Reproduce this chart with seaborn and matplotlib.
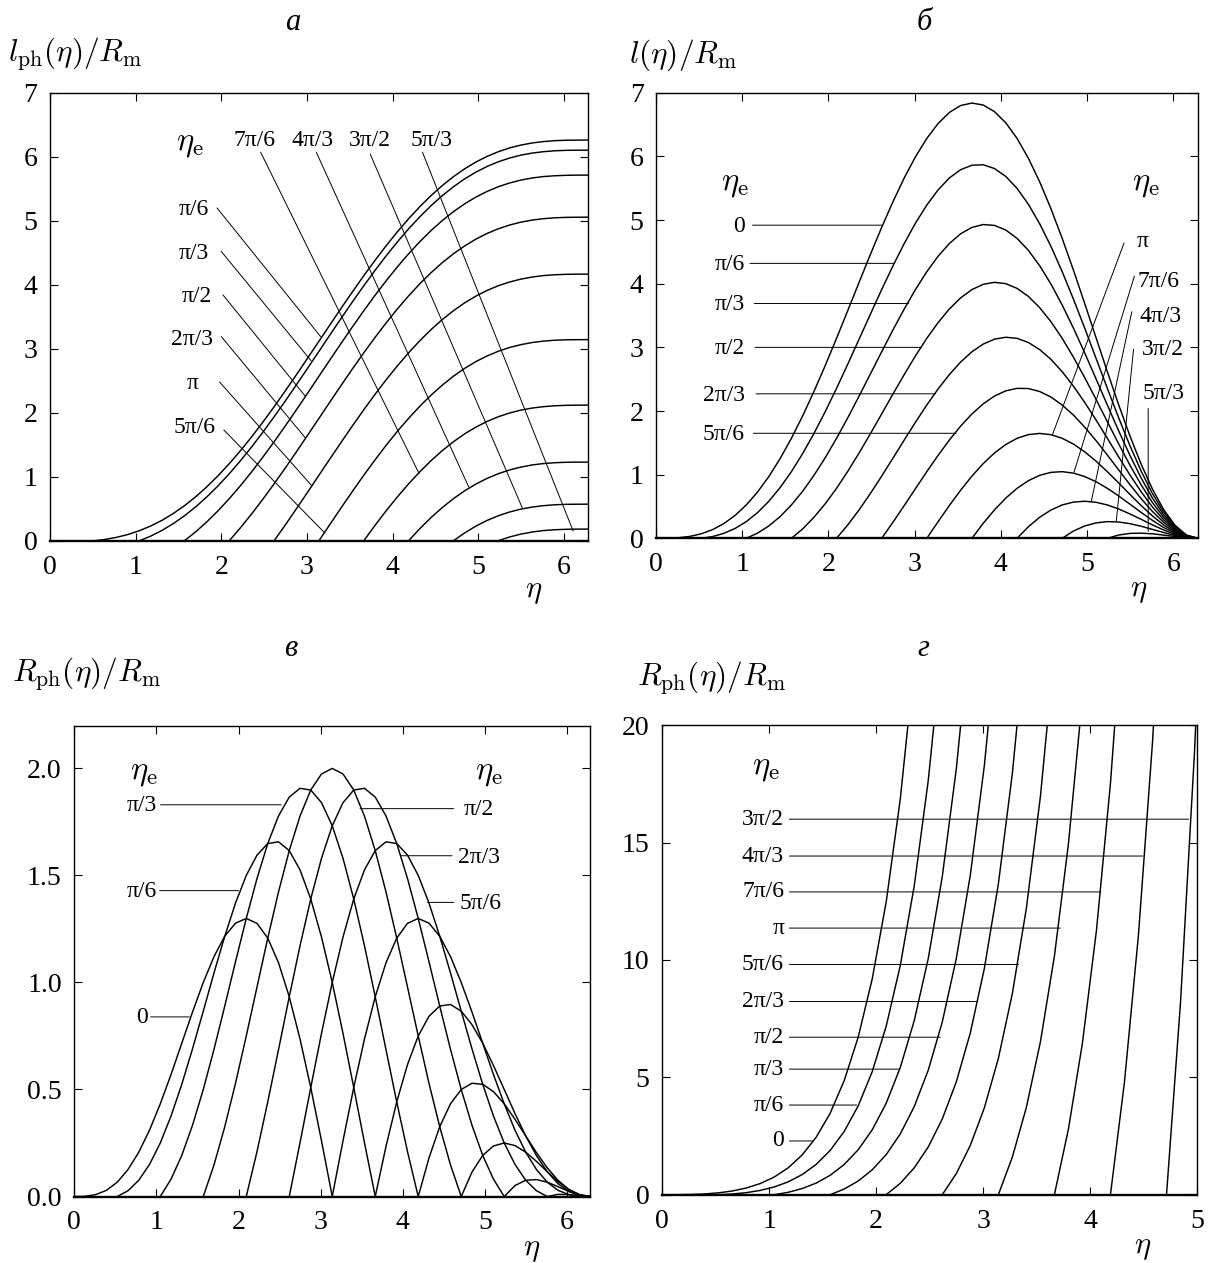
import pandas as pd
import seaborn as sns
import matplotlib
matplotlib.use('Agg')
import matplotlib.pyplot as plt

# conformal time grid, step pi/24
eta_grid = [0.0, 0.1309, 0.2618, 0.3927, 0.5236, 0.6545, 0.7854, 0.9163, 1.0472, 1.1781,
            1.3090, 1.4399, 1.5708, 1.7017, 1.8326, 1.9635, 2.0944, 2.2253, 2.3562, 2.4871,
            2.6180, 2.7489, 2.8798, 3.0107, 3.1416, 3.2725, 3.4034, 3.5343, 3.6652, 3.7961,
            3.9270, 4.0579, 4.1888, 4.3197, 4.4506, 4.5815, 4.7124, 4.8433, 4.9742, 5.1051,
            5.2360, 5.3669, 5.4978, 5.6287, 5.7596, 5.8905, 6.0214, 6.1523, 6.2832]

# emission moments eta_e = 0, pi/6, ..., 11pi/6
eta_e = [0.0, 0.5236, 1.0472, 1.5708, 2.0944, 2.6180, 3.1416, 3.6652, 4.1888, 4.7124, 5.2360, 5.7596]

# panel a: l_ph / R_m, eta_e = pi/6 ... 5pi/3 (values from eta_e on)
lph_curves = [
    [0, 0.022, 0.055, 0.099, 0.158, 0.231, 0.319, 0.425, 0.547, 0.687, 0.843, 1.016, 1.205,
     1.408, 1.625, 1.855, 2.094, 2.343, 2.597, 2.857, 3.118, 3.379, 3.639, 3.893, 4.142,
     4.381, 4.611, 4.828, 5.031, 5.220, 5.393, 5.549, 5.689, 5.811, 5.917, 6.005, 6.078,
     6.137, 6.181, 6.214, 6.236, 6.250, 6.257, 6.259, 6.260],
    [0, 0.073, 0.162, 0.267, 0.390, 0.529, 0.686, 0.858, 1.047, 1.251, 1.468, 1.697, 1.937,
     2.185, 2.440, 2.699, 2.960, 3.222, 3.481, 3.736, 3.984, 4.224, 4.453, 4.670, 4.874,
     5.062, 5.235, 5.392, 5.531, 5.654, 5.759, 5.848, 5.921, 5.979, 6.024, 6.056, 6.078,
     6.092, 6.099, 6.102, 6.102],
    [0, 0.139, 0.296, 0.469, 0.658, 0.861, 1.078, 1.308, 1.547, 1.795, 2.050, 2.309, 2.571,
     2.832, 3.091, 3.346, 3.594, 3.834, 4.063, 4.280, 4.484, 4.673, 4.846, 5.002, 5.142,
     5.264, 5.369, 5.458, 5.531, 5.589, 5.634, 5.667, 5.689, 5.702, 5.709, 5.712, 5.712],
    [0, 0.204, 0.421, 0.650, 0.890, 1.138, 1.393, 1.652, 1.913, 2.175, 2.434, 2.689, 2.937,
     3.176, 3.406, 3.623, 3.826, 4.015, 4.188, 4.345, 4.484, 4.606, 4.712, 4.801, 4.874,
     4.932, 4.977, 5.009, 5.031, 5.045, 5.052, 5.054, 5.055],
    [0, 0.248, 0.503, 0.762, 1.024, 1.285, 1.544, 1.799, 2.047, 2.287, 2.516, 2.733, 2.937,
     3.126, 3.299, 3.455, 3.594, 3.717, 3.822, 3.911, 3.984, 4.042, 4.087, 4.119, 4.142,
     4.155, 4.162, 4.165, 4.165],
    [0, 0.261, 0.521, 0.775, 1.024, 1.263, 1.493, 1.710, 1.913, 2.102, 2.275, 2.431, 2.571,
     2.693, 2.799, 2.887, 2.960, 3.019, 3.063, 3.096, 3.118, 3.132, 3.139, 3.141, 3.142],
    [0, 0.240, 0.469, 0.686, 0.890, 1.078, 1.251, 1.408, 1.547, 1.670, 1.775, 1.864, 1.937,
     1.995, 2.040, 2.072, 2.094, 2.108, 2.115, 2.118, 2.118],
    [0, 0.189, 0.362, 0.518, 0.658, 0.780, 0.885, 0.974, 1.047, 1.105, 1.150, 1.183, 1.205,
     1.218, 1.225, 1.228, 1.228],
    [0, 0.122, 0.228, 0.317, 0.390, 0.448, 0.493, 0.525, 0.547, 0.561, 0.568, 0.570, 0.571],
    [0, 0.058, 0.103, 0.135, 0.158, 0.171, 0.178, 0.181, 0.181],
]

# panel б: l / R_m, eta_e = 0 ... 11pi/6
l_curves = [
    [0, 0.001, 0.009, 0.030, 0.070, 0.135, 0.230, 0.358, 0.524, 0.727, 0.970, 1.252, 1.571,
     1.924, 2.307, 2.715, 3.142, 3.580, 4.022, 4.460, 4.885, 5.289, 5.662, 5.996, 6.283,
     6.517, 6.691, 6.800, 6.839, 6.808, 6.704, 6.528, 6.283, 5.973, 5.603, 5.180, 4.712,
     4.211, 3.687, 3.152, 2.618, 2.100, 1.610, 1.163, 0.772, 0.448, 0.205, 0.053, 0],
    [0, 0.027, 0.077, 0.154, 0.262, 0.404, 0.582, 0.797, 1.047, 1.332, 1.648, 1.991, 2.356,
     2.738, 3.129, 3.521, 3.908, 4.281, 4.632, 4.953, 5.236, 5.474, 5.662, 5.792, 5.862,
     5.869, 5.810, 5.686, 5.498, 5.249, 4.943, 4.588, 4.189, 3.756, 3.299, 2.828, 2.356,
     1.895, 1.457, 1.055, 0.702, 0.409, 0.187, 0.048, 0],
    [0, 0.081, 0.194, 0.341, 0.524, 0.740, 0.989, 1.267, 1.571, 1.895, 2.235, 2.582, 2.931,
     3.274, 3.603, 3.910, 4.189, 4.432, 4.632, 4.785, 4.885, 4.930, 4.916, 4.844, 4.712,
     4.525, 4.284, 3.996, 3.665, 3.301, 2.911, 2.505, 2.094, 1.690, 1.304, 0.947, 0.631,
     0.369, 0.170, 0.044, 0],
    [0, 0.148, 0.330, 0.543, 0.785, 1.053, 1.341, 1.643, 1.954, 2.267, 2.573, 2.868, 3.142,
     3.389, 3.603, 3.778, 3.908, 3.991, 4.022, 4.001, 3.927, 3.801, 3.625, 3.404, 3.142,
     2.845, 2.523, 2.182, 1.833, 1.485, 1.150, 0.839, 0.561, 0.329, 0.152, 0.039, 0],
    [0, 0.211, 0.447, 0.704, 0.977, 1.259, 1.544, 1.825, 2.094, 2.346, 2.573, 2.770, 2.931,
     3.052, 3.129, 3.159, 3.142, 3.077, 2.966, 2.812, 2.618, 2.390, 2.134, 1.859, 1.571,
     1.280, 0.997, 0.730, 0.491, 0.289, 0.134, 0.035, 0],
    [0, 0.252, 0.515, 0.782, 1.047, 1.303, 1.544, 1.763, 1.954, 2.113, 2.235, 2.317, 2.356,
     2.353, 2.307, 2.220, 2.094, 1.935, 1.746, 1.535, 1.309, 1.076, 0.844, 0.622, 0.421,
     0.249, 0.116, 0.030, 0],
    [0, 0.261, 0.515, 0.756, 0.977, 1.174, 1.341, 1.474, 1.571, 1.629, 1.648, 1.628, 1.571,
     1.480, 1.358, 1.212, 1.047, 0.871, 0.690, 0.514, 0.351, 0.209, 0.098, 0.026, 0],
    [0, 0.235, 0.447, 0.632, 0.785, 0.905, 0.989, 1.036, 1.047, 1.024, 0.970, 0.889, 0.785,
     0.666, 0.537, 0.406, 0.281, 0.169, 0.080, 0.021, 0],
    [0, 0.181, 0.330, 0.444, 0.524, 0.569, 0.582, 0.566, 0.524, 0.461, 0.383, 0.298, 0.210,
     0.130, 0.062, 0.017, 0],
    [0, 0.114, 0.194, 0.242, 0.262, 0.256, 0.230, 0.189, 0.140, 0.090, 0.045, 0.012, 0],
    [0, 0.051, 0.077, 0.081, 0.070, 0.050, 0.027, 0.008, 0],
    [0, 0.010, 0.009, 0.003, 0],
]

# panel в: R_ph / R_m, closed model, eta_e = 0 ... 11pi/6
rph_closed = [
    [0, 0.001, 0.009, 0.029, 0.067, 0.126, 0.207, 0.310, 0.433, 0.570, 0.716, 0.862, 1.000,
     1.121, 1.216, 1.277, 1.299, 1.276, 1.207, 1.092, 0.933, 0.736, 0.509, 0.260, 0],
    [0, 0.027, 0.076, 0.150, 0.250, 0.376, 0.524, 0.690, 0.866, 1.045, 1.216, 1.371, 1.500,
     1.595, 1.649, 1.657, 1.616, 1.526, 1.390, 1.212, 1.000, 0.762, 0.509, 0.251, 0],
    [0, 0.081, 0.192, 0.333, 0.500, 0.688, 0.890, 1.097, 1.299, 1.486, 1.649, 1.778, 1.866,
     1.907, 1.899, 1.840, 1.732, 1.580, 1.390, 1.171, 0.933, 0.686, 0.442, 0.210, 0],
    [0, 0.148, 0.326, 0.529, 0.750, 0.979, 1.207, 1.423, 1.616, 1.777, 1.899, 1.974, 2.000,
     1.974, 1.899, 1.777, 1.616, 1.423, 1.207, 0.979, 0.750, 0.529, 0.326, 0.148, 0],
    [0, 0.210, 0.442, 0.686, 0.933, 1.171, 1.390, 1.580, 1.732, 1.840, 1.899, 1.907, 1.866,
     1.778, 1.649, 1.486, 1.299, 1.097, 0.890, 0.688, 0.500, 0.333, 0.192, 0.081, 0],
    [0, 0.251, 0.509, 0.762, 1.000, 1.212, 1.390, 1.526, 1.616, 1.657, 1.649, 1.595, 1.500,
     1.371, 1.216, 1.045, 0.866, 0.690, 0.524, 0.376, 0.250, 0.150, 0.076, 0.027, 0],
    [0, 0.260, 0.509, 0.736, 0.933, 1.092, 1.207, 1.276, 1.299, 1.277, 1.216, 1.121, 1.000,
     0.862, 0.716, 0.570, 0.433, 0.310, 0.207, 0.126, 0.067, 0.029, 0.009, 0.001, 0],
    [0, 0.234, 0.442, 0.616, 0.750, 0.842, 0.890, 0.897, 0.866, 0.803, 0.716, 0.612, 0.500,
     0.388, 0.283, 0.191, 0.116, 0.060, 0.024, 0.005, 0],
    [0, 0.180, 0.326, 0.433, 0.500, 0.529, 0.524, 0.490, 0.433, 0.361, 0.283, 0.205, 0.134,
     0.076, 0.033, 0.008, 0],
    [0, 0.114, 0.192, 0.236, 0.250, 0.238, 0.207, 0.164, 0.116, 0.070, 0.033, 0.009, 0],
    [0, 0.051, 0.076, 0.079, 0.067, 0.046, 0.024, 0.007, 0],
    [0, 0.010, 0.009, 0.003, 0],
]

# panel г: R_ph / R_m, open model, eta_e = 0 ... 3pi/2 (until past 20)
rph_open = [
    [0, 0.001, 0.009, 0.031, 0.077, 0.156, 0.282, 0.473, 0.750, 1.144, 1.693, 2.447, 3.473,
     4.858, 6.714, 9.192, 12.483, 16.842, 22.599],
    [0, 0.029, 0.086, 0.181, 0.329, 0.546, 0.857, 1.290, 1.886, 2.695, 3.784, 5.243, 7.184,
     9.759, 13.163, 17.651, 23.555],
    [0, 0.102, 0.261, 0.495, 0.827, 1.287, 1.915, 2.764, 3.900, 5.413, 7.419, 10.067, 13.556,
     18.141, 24.158],
    [0, 0.241, 0.584, 1.060, 1.710, 2.586, 3.755, 5.308, 7.360, 10.063, 13.615, 18.274, 24.375],
    [0, 0.483, 1.145, 2.036, 3.227, 4.807, 6.892, 9.634, 13.233, 17.947, 24.112],
    [0, 0.899, 2.101, 3.697, 5.803, 8.573, 12.204, 16.958, 23.169],
    [0, 1.603, 3.720, 6.506, 10.160, 14.940, 21.184],
    [0, 2.793, 6.458, 11.254, 17.520, 25.694],
    [0, 4.803, 11.080, 19.271, 29.947],
    [0, 8.198, 18.885, 32.807],
]


def curves_frame(grid, starts, curves):
    rows = []
    for e, vals in zip(starts, curves):
        xs = [g for g in grid if g >= e - 1e-3][:len(vals)]
        rows += [(e, x, y) for x, y in zip(xs, vals)]
    return pd.DataFrame(rows, columns=['eta_e', 'eta', 'value'])


sns.set_style('ticks', {'axes.edgecolor': 'black', 'xtick.color': 'black',
                        'ytick.color': 'black', 'text.color': 'black'})
plt.rcParams['font.family'] = ['Liberation Serif', 'DejaVu Serif']
plt.rcParams['mathtext.fontset'] = 'cm'

W, H = 1214, 1263
fig = plt.figure(figsize=(W / 100, H / 100), dpi=100)


def px_axes(left, right, top, bottom):
    return fig.add_axes([left / W, 1 - bottom / H, (right - left) / W, (bottom - top) / H])


def style(ax, xmax, xticks, ymax, yticks, yfmt=None):
    ax.set_xlim(0, xmax)
    ax.set_ylim(0, ymax)
    ax.set_xticks(xticks)
    ax.set_yticks(yticks)
    if yfmt:
        ax.set_yticklabels([yfmt.format(v) for v in yticks])
    ax.set_xlabel('')
    ax.set_ylabel('')
    ax.tick_params(direction='in', top=True, right=True, length=6, width=0.8, labelsize=20)
    ax.tick_params(axis='x', pad=10)
    ax.tick_params(axis='y', pad=9)
    for s in ax.spines.values():
        s.set_linewidth(1.0)
    ax.spines['bottom'].set_linewidth(1.7)


def draw(ax, df):
    sns.lineplot(data=df, x='eta', y='value', units='eta_e', estimator=None,
                 color='black', linewidth=1.05, ax=ax, legend=False)


def note(ax, text, tx, ty, ha='center', seg=None, size=17):
    ax.text(tx, ty, text, ha=ha, va='center', fontsize=size)
    if seg is not None:
        ax.annotate('', xy=(seg[2], seg[3]), xytext=(seg[0], seg[1]),
                    arrowprops=dict(arrowstyle='-', color='black', lw=0.7,
                                    shrinkA=0, shrinkB=0))


ETA_E = r'$\eta_{\rm e}$'
EK = 23.5

# ---- panel a
ax_a = px_axes(50, 588, 92.7, 540.7)
draw(ax_a, curves_frame(eta_grid, eta_e[1:11], lph_curves))
style(ax_a, 6.2832, range(7), 7, range(8))
note(ax_a, ETA_E, 1.63, 6.20, size=EK)
for txt, tx, ty, seg in [
        ('7π/6', 2.39, 6.26, (2.46, 6.07, 4.31, 1.05)),
        ('4π/3', 3.07, 6.26, (3.11, 6.07, 4.89, 0.84)),
        ('3π/2', 3.74, 6.26, (3.74, 6.04, 5.52, 0.50)),
        ('5π/3', 4.46, 6.26, (4.35, 6.07, 6.11, 0.15)),
        ('π/6', 1.68, 5.17, (1.95, 5.20, 3.16, 3.19)),
        ('π/3', 1.68, 4.49, (2.00, 4.52, 3.05, 2.81)),
        ('π/2', 1.72, 3.81, (2.02, 3.84, 2.98, 2.26)),
        ('2π/3', 1.66, 3.14, (2.00, 3.19, 2.98, 1.61)),
        ('π', 1.66, 2.46, (1.98, 2.48, 3.05, 0.87)),
        ('5π/6', 1.69, 1.77, (2.03, 1.73, 3.21, 0.12))]:
    note(ax_a, txt, tx, ty, seg=seg)

# ---- panel б
ax_b = px_axes(656, 1197.6, 92.8, 538.3)
draw(ax_b, curves_frame(eta_grid, eta_e, l_curves))
style(ax_b, 6.2832, range(7), 7, range(8))
note(ax_b, ETA_E, 0.92, 5.57, size=EK)
note(ax_b, ETA_E, 5.68, 5.57, size=EK)
for txt, ty, x0, x1 in [('0', 4.92, 1.12, 2.62), ('π/6', 4.32, 1.09, 2.77),
                        ('π/3', 3.69, 1.14, 2.93), ('π/2', 3.00, 1.15, 3.08),
                        ('2π/3', 2.27, 1.16, 3.24), ('5π/6', 1.65, 1.13, 3.48)]:
    note(ax_b, txt, 1.03, ty - 0.02, ha='right', seg=(x0, ty, x1, ty))
for txt, tx, ty, seg in [
        ('π', 5.58, 4.67, (5.43, 4.64, 4.60, 1.63)),
        ('7π/6', 5.59, 4.04, (5.55, 4.12, 4.85, 1.04)),
        ('4π/3', 5.61, 3.49, (5.52, 3.56, 5.05, 0.58)),
        ('3π/2', 5.64, 2.97, (5.54, 2.97, 5.34, 0.27)),
        ('5π/3', 5.65, 2.28, (5.71, 2.04, 5.71, 0.11))]:
    note(ax_b, txt, tx, ty, ha='left', seg=seg)

# ---- panel в
ax_c = px_axes(74.3, 590.2, 725.6, 1196.5)
draw(ax_c, curves_frame(eta_grid, eta_e, rph_closed))
style(ax_c, 6.2832, range(7), 2.2, [0, 0.5, 1.0, 1.5, 2.0], yfmt='{:.1f}')
note(ax_c, ETA_E, 0.85, 1.98, size=EK)
note(ax_c, ETA_E, 5.05, 1.98, size=EK)
for txt, tx, ty, x0, x1 in [('π/3', 1.00, 1.825, 1.05, 2.52),
                            ('π/6', 1.00, 1.424, 1.04, 2.00),
                            ('0', 0.90, 0.834, 0.93, 1.40)]:
    note(ax_c, txt, tx, ty, ha='right', seg=(x0, ty + 0.005, x1, ty + 0.005))
for txt, tx, ty, x0, x1 in [('π/2', 4.74, 1.806, 3.48, 4.62),
                            ('2π/3', 4.67, 1.586, 3.98, 4.60),
                            ('5π/6', 4.69, 1.368, 4.30, 4.62)]:
    note(ax_c, txt, tx, ty, ha='left', seg=(x0, ty + 0.006, x1, ty + 0.006))

# ---- panel г
ax_d = px_axes(662, 1197.3, 725.3, 1194.7)
draw(ax_d, curves_frame(eta_grid, eta_e[:10], rph_open))
style(ax_d, 5, range(6), 20, [0, 5, 10, 15, 20])
note(ax_d, ETA_E, 0.97, 18.2, size=EK)
for txt, ty, x1 in [('3π/2', 16.0, 4.92), ('4π/3', 14.43, 4.49), ('7π/6', 12.9, 4.10),
                    ('π', 11.36, 3.72), ('5π/6', 9.81, 3.33), ('2π/3', 8.23, 2.94),
                    ('π/2', 6.71, 2.60), ('π/3', 5.35, 2.22), ('π/6', 3.82, 1.82),
                    ('0', 2.29, 1.41)]:
    note(ax_d, txt, 1.14, ty, ha='right', seg=(1.19, ty, x1, ty))

# ---- titles, axis names
for txt, x, y in [('а', 293, 23), ('б', 924, 22), ('в', 291, 648), ('г', 923, 648)]:
    fig.text(x / W, 1 - y / H, txt, ha='center', va='center', fontsize=22, style='italic')
for txt, x, y in [(r'$l_{\rm ph}(\eta)/R_{\rm m}$', 8, 54),
                  (r'$l(\eta)/R_{\rm m}$', 629, 55),
                  (r'$R_{\rm ph}(\eta)/R_{\rm m}$', 12, 674),
                  (r'$R_{\rm ph}(\eta)/R_{\rm m}$', 637, 678)]:
    fig.text(x / W, 1 - y / H, txt, ha='left', va='center', fontsize=22.5)
for x, y in [(534, 591), (1139, 590), (532, 1249), (1143, 1248)]:
    fig.text(x / W, 1 - y / H, r'$\eta$', ha='center', va='center', fontsize=22)

fig.savefig('out.png', dpi=100)
